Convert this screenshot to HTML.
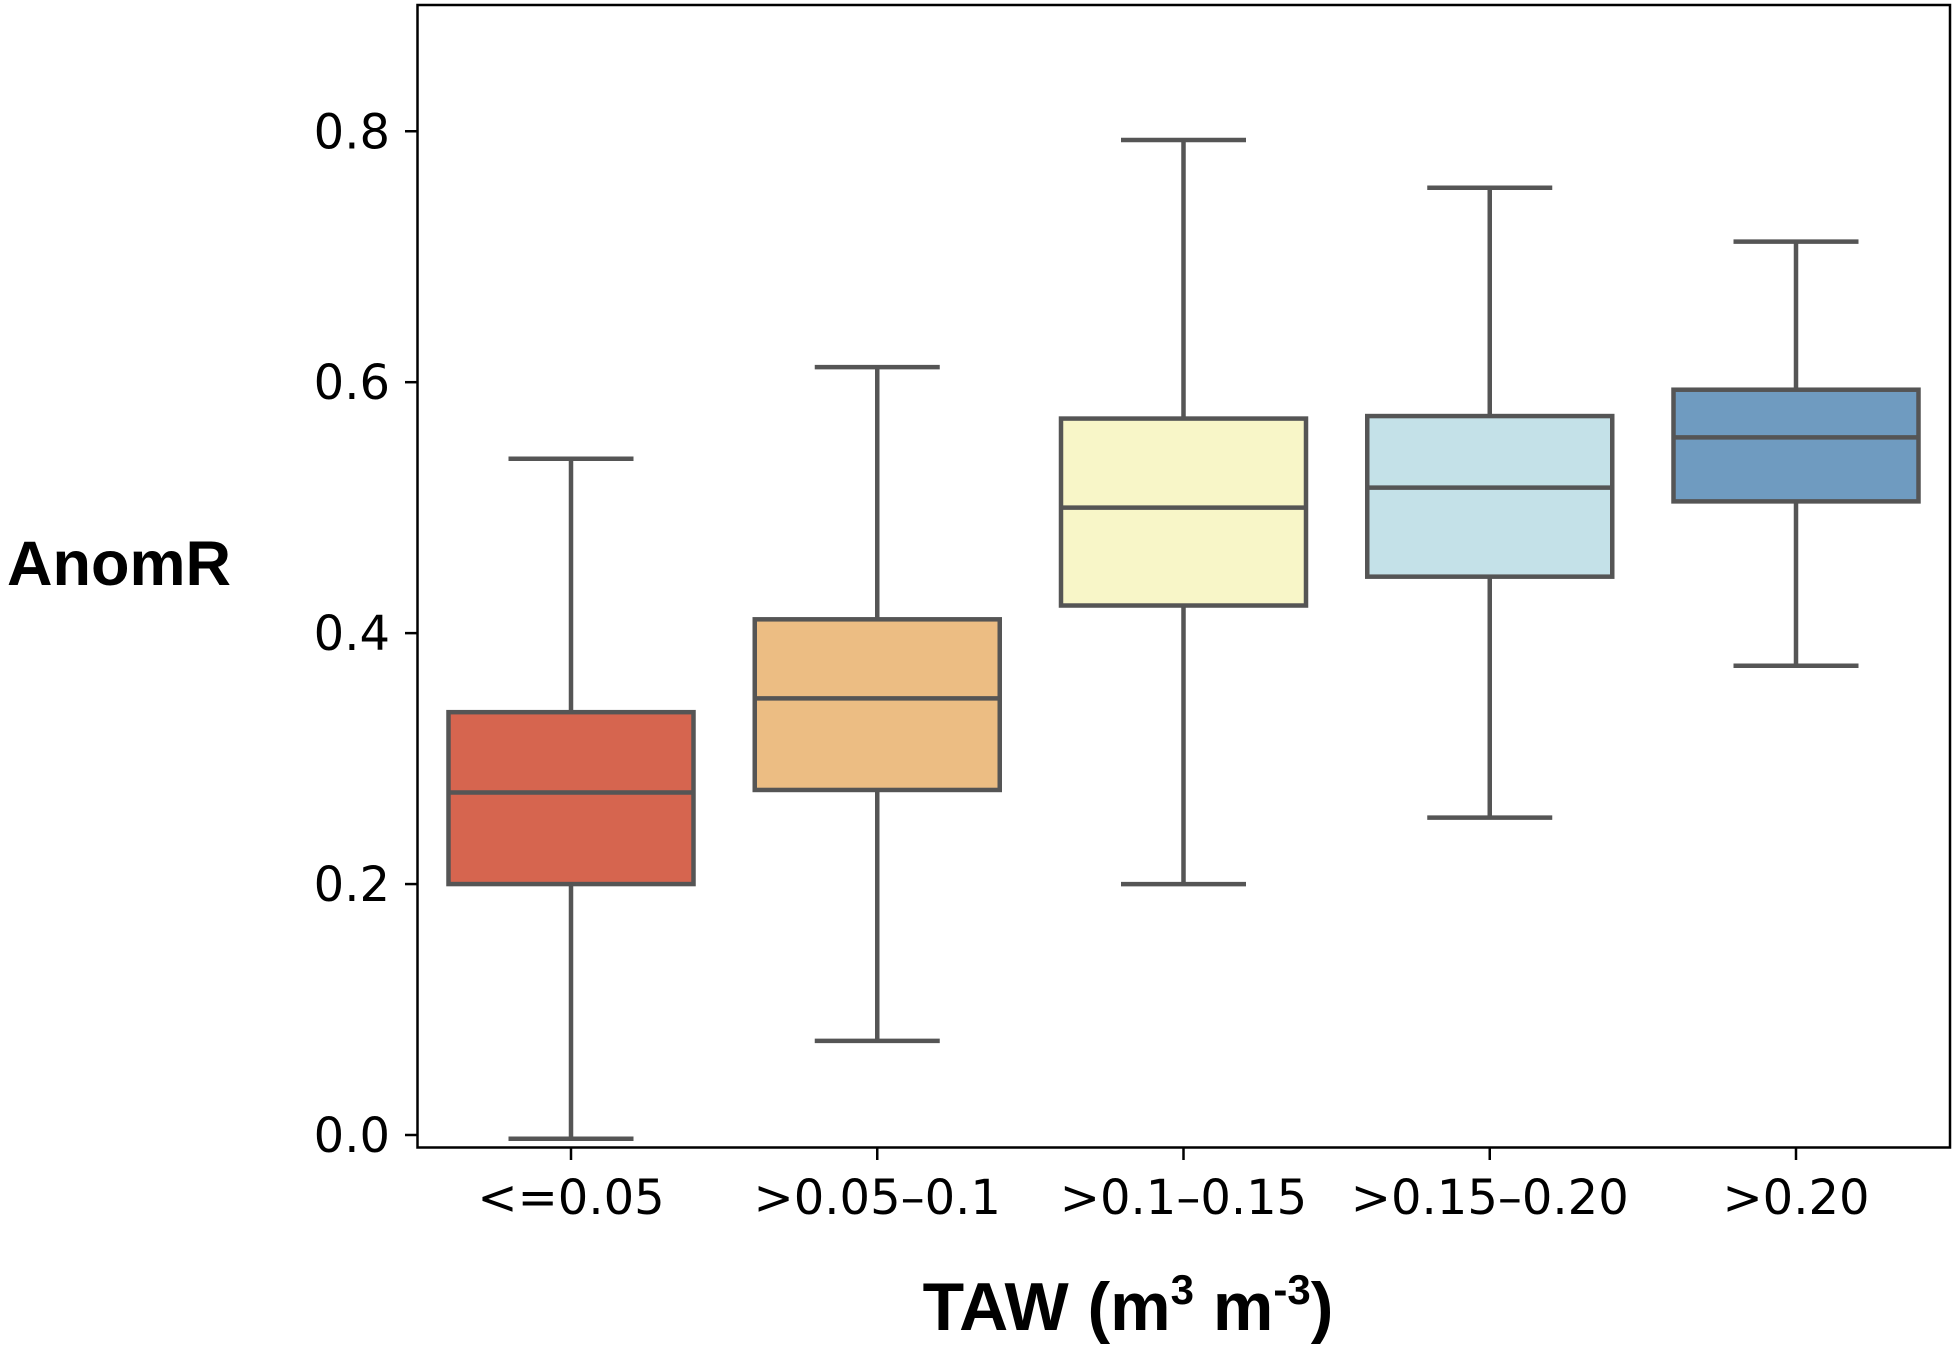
<!DOCTYPE html>
<html><head><meta charset="utf-8"><style>
body{margin:0;background:#fff;}
svg text{font-family:"DejaVu Sans","Liberation Sans",sans-serif;}
svg text.title{font-family:"Liberation Sans","DejaVu Sans",sans-serif;}
</style></head><body>
<svg id="chart" width="1960" height="1346" xmlns="http://www.w3.org/2000/svg">
<rect x="417.5" y="5" width="1532.5" height="1142.5" fill="#fff" stroke="#000" stroke-width="2.5"/>
<g id="yaxis"></g>
<g id="xaxis"></g>
<g id="boxes"></g>
<text class="title" x="119" y="585" font-size="63" font-weight="bold" text-anchor="middle">AnomR</text>
<text class="title" x="1128" y="1330" font-size="68" font-weight="bold" text-anchor="middle">TAW (m<tspan font-size="42" dy="-26">3</tspan><tspan dy="26"> m</tspan><tspan font-size="42" dy="-26">-3</tspan><tspan dy="26">)</tspan></text>
</svg>
<script>
const categories = ["<=0.05", ">0.05–0.1", ">0.1–0.15", ">0.15–0.20", ">0.20"];
const whiskerLow = [-0.003, 0.075, 0.2, 0.253, 0.374];
const q1 = [0.2, 0.275, 0.422, 0.445, 0.505];
const medians = [0.273, 0.348, 0.5, 0.516, 0.556];
const q3 = [0.337, 0.411, 0.571, 0.573, 0.594];
const whiskerHigh = [0.539, 0.612, 0.793, 0.755, 0.712];
const yTicks = [0.0, 0.2, 0.4, 0.6, 0.8];
const colors = ["#d6654f", "#ecbd83", "#f8f6c8", "#c4e1e8", "#6f9bc0"];

const NS = "http://www.w3.org/2000/svg";
const yScale = v => 1135 - v * (1135 - 131.25) / 0.8;
const xScale = i => 571 + i * 306.25;
const boxW = 245, capW = 125, stroke = "#555", sw = 4.5;

function mk(tag, attrs, parent) {
  const e = document.createElementNS(NS, tag);
  for (const k in attrs) e.setAttribute(k, attrs[k]);
  parent.appendChild(e);
  return e;
}
const ya = document.getElementById("yaxis");
yTicks.forEach(t => {
  const y = yScale(t);
  const l = mk("line", {x1: 405, x2: 417.5, y1: y, y2: y, stroke: "#000", "stroke-width": 2.5}, ya);
  
  
  const tx = mk("text", {x: 390, y: y + 17, "font-size": 48, "text-anchor": "end"}, ya);
  tx.textContent = t.toFixed(1);
  
  
});
const xa = document.getElementById("xaxis");
categories.forEach((c, i) => {
  const x = xScale(i);
  const l = mk("line", {x1: x, x2: x, y1: 1147.5, y2: 1160, stroke: "#000", "stroke-width": 2.5}, xa);
  
  
  const tx = mk("text", {x: x, y: 1214, "font-size": 48, "text-anchor": "middle"}, xa);
  tx.textContent = c;
  
  
});
const bx = document.getElementById("boxes");
categories.forEach((c, i) => {
  const x = xScale(i);
  const g = mk("g", {}, bx);
  
  
  const s = {stroke: stroke, "stroke-width": sw};
  mk("line", Object.assign({x1: x, x2: x, y1: yScale(whiskerLow[i]), y2: yScale(q1[i])}, s), g);
  mk("line", Object.assign({x1: x, x2: x, y1: yScale(q3[i]), y2: yScale(whiskerHigh[i])}, s), g);
  mk("line", Object.assign({x1: x - capW/2, x2: x + capW/2, y1: yScale(whiskerLow[i]), y2: yScale(whiskerLow[i])}, s), g);
  mk("line", Object.assign({x1: x - capW/2, x2: x + capW/2, y1: yScale(whiskerHigh[i]), y2: yScale(whiskerHigh[i])}, s), g);
  mk("rect", Object.assign({x: x - boxW/2, y: yScale(q3[i]), width: boxW, height: yScale(q1[i]) - yScale(q3[i]), fill: colors[i]}, s), g);
  mk("line", Object.assign({x1: x - boxW/2, x2: x + boxW/2, y1: yScale(medians[i]), y2: yScale(medians[i])}, s), g);
});
</script>
</body></html>
